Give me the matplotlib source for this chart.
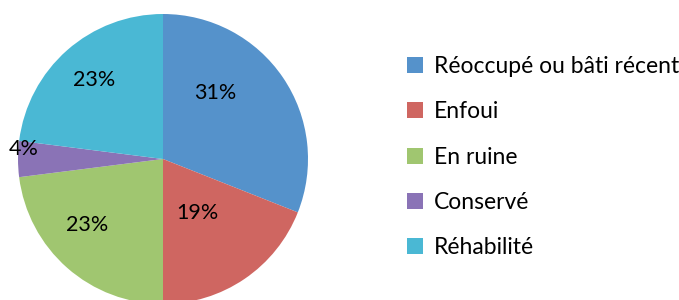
import matplotlib
matplotlib.use("Agg")
import matplotlib.pyplot as plt
from matplotlib.patches import Patch
import numpy as np

categories = ["Réoccupé ou bâti récent", "Enfoui", "En ruine", "Conservé", "Réhabilité"]
values = [31, 19, 23, 4, 23]
colors = ["#5592CB", "#CF6661", "#A0C670", "#8A73B6", "#4AB8D4"]

# label layout (fraction of radius, angle in degrees clockwise from top) - placement only
label_pos = [(0.58, 38), (0.44, 147), (0.69, 229), (0.96, 274), (0.72, 319)]

plt.rcParams['font.family'] = ['Lato', 'DejaVu Sans']

fig = plt.figure(figsize=(6.79, 3.0), dpi=100)
R = 145
cx, cy = 163, 159
ax = fig.add_axes([(cx - R) / 679, (300 - cy - R) / 300, 2 * R / 679, 2 * R / 300])
ax.axis('off')

wedges, _ = ax.pie(values, colors=colors, startangle=90, counterclock=False,
                   radius=1, wedgeprops=dict(linewidth=0))
ax.set_xlim(-1, 1)
ax.set_ylim(-1, 1)
ax.set_aspect('equal')

for v, (rr, ang) in zip(values, label_pos):
    a = np.deg2rad(90 - ang)
    ax.text(rr * np.cos(a), rr * np.sin(a), f"{v}%", ha='center', va='center',
            fontsize=15.5, color='black')

handles = [Patch(facecolor=c, edgecolor='none') for c in colors]
leg = fig.legend(handles, categories, loc='upper left',
                 bbox_to_anchor=(398 / 679, 1 - 47 / 300), frameon=False,
                 fontsize=16.5, handlelength=0.7, handleheight=0.7,
                 handletextpad=0.45, labelspacing=1.06, borderaxespad=0)

fig.savefig("out.png", dpi=100)
